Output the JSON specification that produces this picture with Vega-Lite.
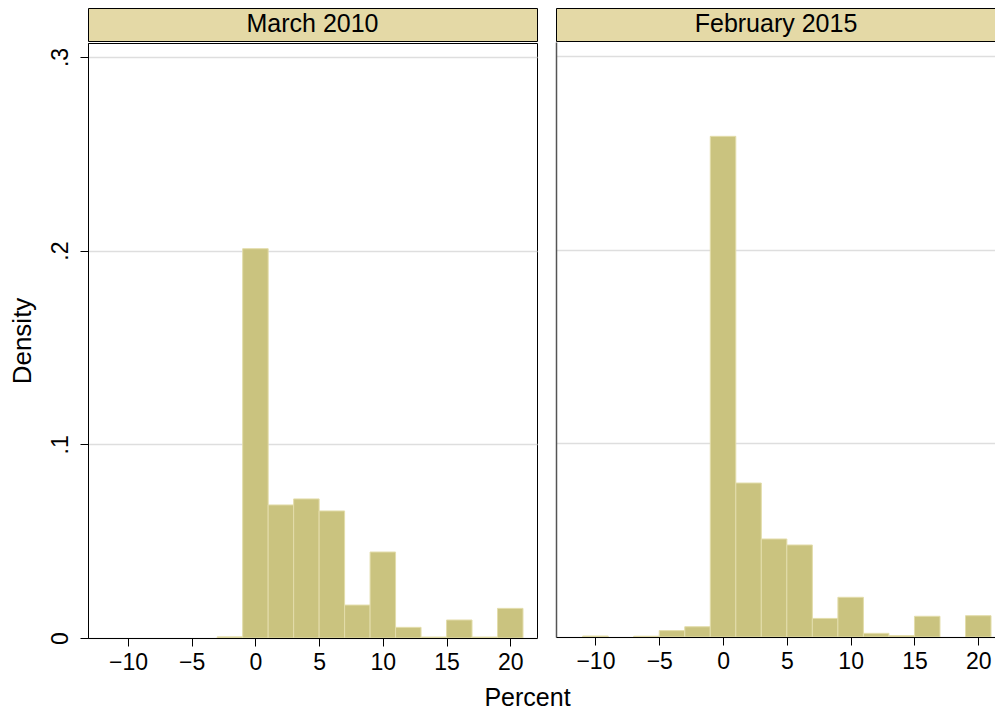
{
  "$schema": "https://vega.github.io/schema/vega-lite/v6.json",
  "padding": {"left": 8, "top": 7, "right": 0, "bottom": 0},
  "background": "white",
  "config": {
    "font": "Liberation Sans",
    "view": {"stroke": null},
    "concat": {"spacing": 17}
  },
  "datasets": {
    "march2010": [
      {"bin_start": -3, "bin_end": -1, "density": 0.0006},
      {"bin_start": -1, "bin_end": 1, "density": 0.201},
      {"bin_start": 1, "bin_end": 3, "density": 0.0687},
      {"bin_start": 3, "bin_end": 5, "density": 0.0718},
      {"bin_start": 5, "bin_end": 7, "density": 0.0656},
      {"bin_start": 7, "bin_end": 9, "density": 0.017},
      {"bin_start": 9, "bin_end": 11, "density": 0.0444},
      {"bin_start": 11, "bin_end": 13, "density": 0.0055},
      {"bin_start": 13, "bin_end": 15, "density": 0.0005},
      {"bin_start": 15, "bin_end": 17, "density": 0.0093},
      {"bin_start": 17, "bin_end": 19, "density": 0.0005},
      {"bin_start": 19, "bin_end": 21, "density": 0.0153}
    ],
    "feb2015": [
      {"bin_start": -11, "bin_end": -9, "density": 0.0005},
      {"bin_start": -7, "bin_end": -5, "density": 0.0004},
      {"bin_start": -5, "bin_end": -3, "density": 0.0033},
      {"bin_start": -3, "bin_end": -1, "density": 0.0053},
      {"bin_start": -1, "bin_end": 1, "density": 0.2585},
      {"bin_start": 1, "bin_end": 3, "density": 0.0795},
      {"bin_start": 3, "bin_end": 5, "density": 0.0506},
      {"bin_start": 5, "bin_end": 7, "density": 0.0475},
      {"bin_start": 7, "bin_end": 9, "density": 0.0096},
      {"bin_start": 9, "bin_end": 11, "density": 0.0205},
      {"bin_start": 11, "bin_end": 13, "density": 0.0019},
      {"bin_start": 13, "bin_end": 15, "density": 0.0007},
      {"bin_start": 15, "bin_end": 17, "density": 0.0107},
      {"bin_start": 19, "bin_end": 21, "density": 0.011}
    ]
  },
  "title": {
    "text": "Percent",
    "orient": "bottom",
    "anchor": "middle",
    "fontSize": 25,
    "fontWeight": "normal",
    "color": "black",
    "offset": 11,
    "dx": 25
  },
  "hconcat": [
    {
      "spacing": 0,
      "vconcat": [
        {
          "width": 449,
          "height": 33,
          "data": {"values": [{"label": "March 2010"}]},
          "mark": {"type": "text", "fontSize": 25, "baseline": "middle", "color": "black", "dy": -1},
          "encoding": {"text": {"field": "label", "type": "nominal"}},
          "view": {"fill": "#e4d9a6", "stroke": "black", "strokeWidth": 1}
        },
        {
          "width": 449,
          "height": 595,
          "data": {"name": "march2010"},
          "mark": {"type": "bar", "fill": "#cac37f", "stroke": "#e3ddab", "strokeWidth": 1},
          "encoding": {
            "x": {
              "field": "bin_start",
              "type": "quantitative",
              "scale": {"domain": [-13.14, 22.1], "nice": false, "zero": false},
              "axis": {
                "title": null,
                "values": [-10, -5, 0, 5, 10, 15, 20],
                "grid": false,
                "domainColor": "black",
                "tickColor": "black",
                "tickSize": 8,
                "labelFontSize": 23,
                "labelColor": "black",
                "labelPadding": 5,
                "zindex": 1
              }
            },
            "x2": {"field": "bin_end"},
            "y": {
              "field": "density",
              "type": "quantitative",
              "scale": {"domain": [0, 0.3072], "nice": false},
              "axis": {
                "title": "Density",
                "titleFontSize": 26,
                "titleFontWeight": "normal",
                "titleColor": "black",
                "titlePadding": 14,
                "values": [0, 0.1, 0.2, 0.3],
                "labelExpr": "datum.value == 0 ? '0' : replace(format(datum.value, '.1f'), '0.', '.')",
                "labelAngle": -90,
                "labelAlign": "center",
                "labelBaseline": "alphabetic",
                "labelPadding": 13,
                "labelFontSize": 23,
                "labelColor": "black",
                "tickSize": 8,
                "tickColor": "black",
                "domainColor": "black",
                "grid": true,
                "gridColor": "#dedede",
                "gridWidth": 1.5
              }
            },
            "y2": {"datum": 0}
          },
          "view": {"stroke": "black", "strokeWidth": 1}
        }
      ]
    },
    {
      "spacing": 0,
      "vconcat": [
        {
          "width": 440,
          "height": 33,
          "data": {"values": [{"label": "February 2015"}]},
          "mark": {"type": "text", "fontSize": 25, "baseline": "middle", "color": "black", "dy": -1},
          "encoding": {"text": {"field": "label", "type": "nominal"}},
          "view": {"fill": "#e4d9a6", "stroke": "black", "strokeWidth": 1}
        },
        {
          "width": 440,
          "height": 595,
          "data": {"name": "feb2015"},
          "mark": {"type": "bar", "fill": "#cac37f", "stroke": "#e3ddab", "strokeWidth": 1},
          "encoding": {
            "x": {
              "field": "bin_start",
              "type": "quantitative",
              "scale": {"domain": [-13.09, 21.39], "nice": false, "zero": false},
              "axis": {
                "title": null,
                "values": [-10, -5, 0, 5, 10, 15, 20],
                "grid": false,
                "domainColor": "black",
                "tickColor": "black",
                "tickSize": 8,
                "labelFontSize": 23,
                "labelColor": "black",
                "labelPadding": 5,
                "zindex": 1
              }
            },
            "x2": {"field": "bin_end"},
            "y": {
              "field": "density",
              "type": "quantitative",
              "scale": {"domain": [0, 0.3072], "nice": false},
              "axis": {
                "title": null,
                "values": [0, 0.1, 0.2, 0.3],
                "labels": false,
                "ticks": false,
                "domainColor": "#555555",
                "domainWidth": 1.5,
                "grid": true,
                "gridColor": "#dedede",
                "gridWidth": 1.5
              }
            },
            "y2": {"datum": 0}
          }
        }
      ]
    }
  ]
}
